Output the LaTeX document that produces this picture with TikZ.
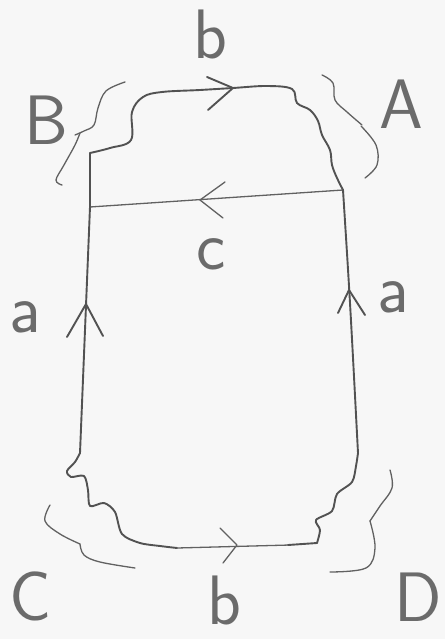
\documentclass[tikz,border=0pt]{standalone}
\usepackage{fontspec}
\begin{document}
\begin{tikzpicture}[x=1pt,y=-1pt,
  ink/.style={draw=black!68,line width=1.9pt,line cap=round,line join=round},
  thin ink/.style={draw=black!62,line width=1.3pt,line cap=round,line join=round},
  brace ink/.style={draw=black!62,line width=1.3pt,line cap=round},
  lbl/.style={text=black!58,font=\sffamily\fontsize{70}{70}\selectfont,inner sep=0pt}]
\fill[gray!6] (0,0) rectangle (445,639);
\useasboundingbox (0,0) rectangle (445,639);
% corners
\coordinate (TL) at (90,153);
\coordinate (ML) at (90,207);
\coordinate (MR) at (343,190);
\coordinate (BL) at (80,453);
\coordinate (BR) at (358,453);
\coordinate (E1) at (177,548);
\coordinate (E2) at (317,543);
% top wavy edge b
\draw[ink] plot[smooth,tension=0.6] coordinates {(TL) (110,148) (131,140) (132,112) (143,97) (162,92) (200,90) (233,88) (267,86) (292,89) (297,103) (310,110) (318,121) (322,135) (330,150) (332,165) (337,178) (MR)};
% c edge
\draw[thin ink] (MR) -- (ML);
% left vertical
\draw[ink] (TL) -- (ML) -- (BL);
% right vertical
\draw[ink] (MR) .. controls (350,300) .. (BR);
% bottom left wavy
\draw[ink] plot[smooth,tension=0.5] coordinates {(BL) (75,462) (67,471) (71,477) (84,476) (88,490) (90,506) (104,503) (115,512) (122,534) (140,543) (160,546) (E1)};
% bottom b edge
\draw[thin ink] (E1) -- (290,545);
\draw[ink] (288,545) -- (E2);
% bottom right wavy
\draw[ink] plot[smooth,tension=0.5] coordinates {(E2) (320,530) (316,520) (332,511) (337,494) (352,482) (356,466) (BR)};
% arrowheads
\draw[ink] (207,77) -- (233,88) -- (208,110);
\draw[thin ink] (225,182) -- (200,200) -- (223,218);
\draw[ink] (67,337) -- (86,304) -- (103,336);
\draw[ink] (338,313) -- (349,290) -- (365,315);
\draw[thin ink] (220,528) -- (237,545) -- (223,563);
% braces
\draw[brace ink] plot[smooth,tension=0.6] coordinates {(125,82) (106,91) (98,108) (94,125) (84,131) (75,135)};
\draw[brace ink] plot[smooth,tension=0.6] coordinates {(80,133) (75,145) (64,165) (56,180) (62,185)};
\draw[brace ink] plot[smooth,tension=0.6] coordinates {(322,75) (333,83) (335,100) (347,112) (362,125)};
\draw[brace ink] plot[smooth,tension=0.6] coordinates {(361,126) (376,145) (377,165) (365,178)};
\draw[brace ink] plot[smooth,tension=0.6] coordinates {(50,505) (45,521) (60,534) (80,544)};
\draw[brace ink] plot[smooth,tension=0.6] coordinates {(80,544) (84,555) (100,562) (135,568)};
\draw[brace ink] plot[smooth,tension=0.6] coordinates {(390,470) (392,488) (380,506) (370,521)};
\draw[brace ink] plot[smooth,tension=0.6] coordinates {(370,521) (375,548) (366,568) (330,572)};
% labels
\node[lbl] (lb1) at (210,34) {b};
\node[lbl] (lB) at (46,120) {B};
\node[lbl] (lA) at (401,104) {A};
\node[lbl] (lc) at (211,254) {c};
\node[lbl] (la1) at (25,317) {a};
\node[lbl] (la2) at (393,297) {a};
\node[lbl] (lC) at (31,596) {C};
\node[lbl] (lb2) at (224,600) {b};
\node[lbl] (lD) at (418,597) {D};
\end{tikzpicture}
\end{document}
